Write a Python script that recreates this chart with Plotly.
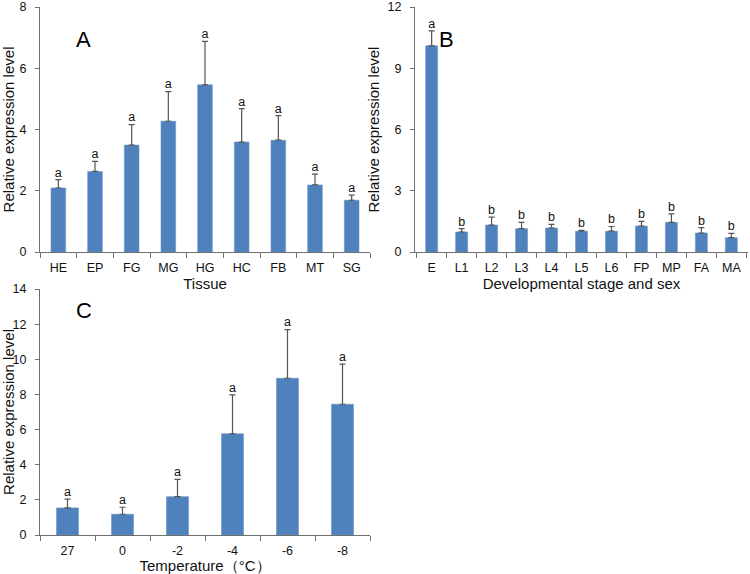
import plotly.graph_objects as go

# Panel A: tissues
tissues = ["HE", "EP", "FG", "MG", "HG", "HC", "FB", "MT", "SG"]
tissue_vals = [2.09, 2.63, 3.49, 4.27, 5.46, 3.59, 3.65, 2.19, 1.69]
tissue_err = [0.27, 0.33, 0.67, 0.97, 1.42, 1.09, 0.80, 0.35, 0.17]
tissue_sig = ["a"] * 9

# Panel B: developmental stage and sex
stages = ["E", "L1", "L2", "L3", "L4", "L5", "L6", "FP", "MP", "FA", "MA"]
stage_vals = [10.10, 0.98, 1.32, 1.14, 1.17, 1.02, 1.02, 1.27, 1.45, 0.93, 0.70]
stage_err = [0.73, 0.16, 0.39, 0.31, 0.18, 0.04, 0.23, 0.23, 0.42, 0.26, 0.21]
stage_sig = ["a"] + ["b"] * 10

# Panel C: temperature
temps = ["27", "0", "-2", "-4", "-6", "-8"]
temp_vals = [1.54, 1.18, 2.18, 5.76, 8.92, 7.44]
temp_err = [0.50, 0.40, 0.98, 2.22, 2.77, 2.28]
temp_sig = ["a"] * 6

BAR = "#4F81BD"
ERR = "#555555"
AX = "#6f6f6f"
FONT = "Liberation Sans, Arial, sans-serif"

fig = go.Figure()

panels = [
    (tissues, tissue_vals, tissue_err, tissue_sig, "x", "y"),
    (stages, stage_vals, stage_err, stage_sig, "x2", "y2"),
    (temps, temp_vals, temp_err, temp_sig, "x3", "y3"),
]
for cats, vals, errs, sig, xa, ya in panels:
    fig.add_trace(go.Bar(
        x=cats, y=vals, xaxis=xa, yaxis=ya, width=0.4,
        marker=dict(color=BAR, line=dict(color="#6c95c8", width=0.6)),
        error_y=dict(type="data", array=errs, arrayminus=[0] * len(errs),
                     symmetric=False, color=ERR, thickness=1.2, width=3),
        showlegend=False, hoverinfo="x+y",
    ))
    fig.add_trace(go.Scatter(
        x=cats, y=[v + e for v, e in zip(vals, errs)], xaxis=xa, yaxis=ya,
        mode="text", text=sig, textposition="top center",
        textfont=dict(size=12.5, color="#111111", family=FONT),
        showlegend=False, hoverinfo="skip", cliponaxis=False,
    ))

xcommon = dict(type="category", showline=True, linecolor=AX, linewidth=1,
               ticks="outside", tickson="boundaries", ticklen=5, tickcolor=AX,
               showgrid=False, zeroline=False, automargin=False,
               ticklabelstandoff=4, ticklabeloverflow="allow",
               tickfont=dict(size=12.5, color="#111111", family=FONT),
               title_font=dict(size=15, color="#111111", family=FONT),
               title_standoff=0)
ycommon = dict(showline=True, linecolor=AX, linewidth=1, ticks="outside",
               ticklen=4, tickcolor=AX, showgrid=False, zeroline=False,
               automargin=False, ticklabelstandoff=6, ticklabeloverflow="allow",
               tickfont=dict(size=12.5, color="#111111", family=FONT),
               title_font=dict(size=15, color="#111111", family=FONT),
               title_standoff=4)

W, H = 750, 574

def dom(a, b, total):
    return [a / total, b / total]

def ydom(top, bottom):
    return [(H - bottom) / H, (H - top) / H]

fig.update_layout(
    width=W, height=H, margin=dict(l=0, r=0, t=0, b=0),
    paper_bgcolor="white", plot_bgcolor="white",
    font=dict(family=FONT, color="#111111"),
    bargap=0.6,
    xaxis=dict(xcommon, domain=dom(40, 370, W), anchor="y", title_text="Tissue"),
    yaxis=dict(ycommon, domain=ydom(7, 252), anchor="x", range=[0, 8],
               tickvals=[0, 2, 4, 6, 8], title_text="Relative expression level"),
    xaxis2=dict(xcommon, domain=dom(415, 748, W), anchor="y2",
                title_text="Developmental stage and sex"),
    yaxis2=dict(ycommon, domain=ydom(7, 252), anchor="x2", range=[0, 12],
                tickvals=[0, 3, 6, 9, 12], title_text="Relative expression level"),
    xaxis3=dict(xcommon, domain=dom(40, 370, W), anchor="y3",
                title_text="Temperature（°C）"),
    yaxis3=dict(ycommon, domain=ydom(289, 535), anchor="x3", range=[0, 14],
                tickvals=[0, 2, 4, 6, 8, 10, 12, 14],
                title_text="Relative expression level"),
    annotations=[
        dict(text="A", x=74 / W, y=(H - 25) / H, xref="paper", yref="paper",
             showarrow=False, font=dict(size=22, color="#000", family=FONT)),
        dict(text="B", x=446 / W, y=(H - 25) / H, xref="paper", yref="paper",
             showarrow=False, font=dict(size=22, color="#000", family=FONT)),
        dict(text="C", x=74 / W, y=(H - 310) / H, xref="paper", yref="paper",
             showarrow=False, font=dict(size=22, color="#000", family=FONT)),
    ],
)

fig.write_html(
    "out.html",
    config={"displayModeBar": False},
    post_script="document.body.style.margin='0';document.body.style.overflow='hidden';",
)
